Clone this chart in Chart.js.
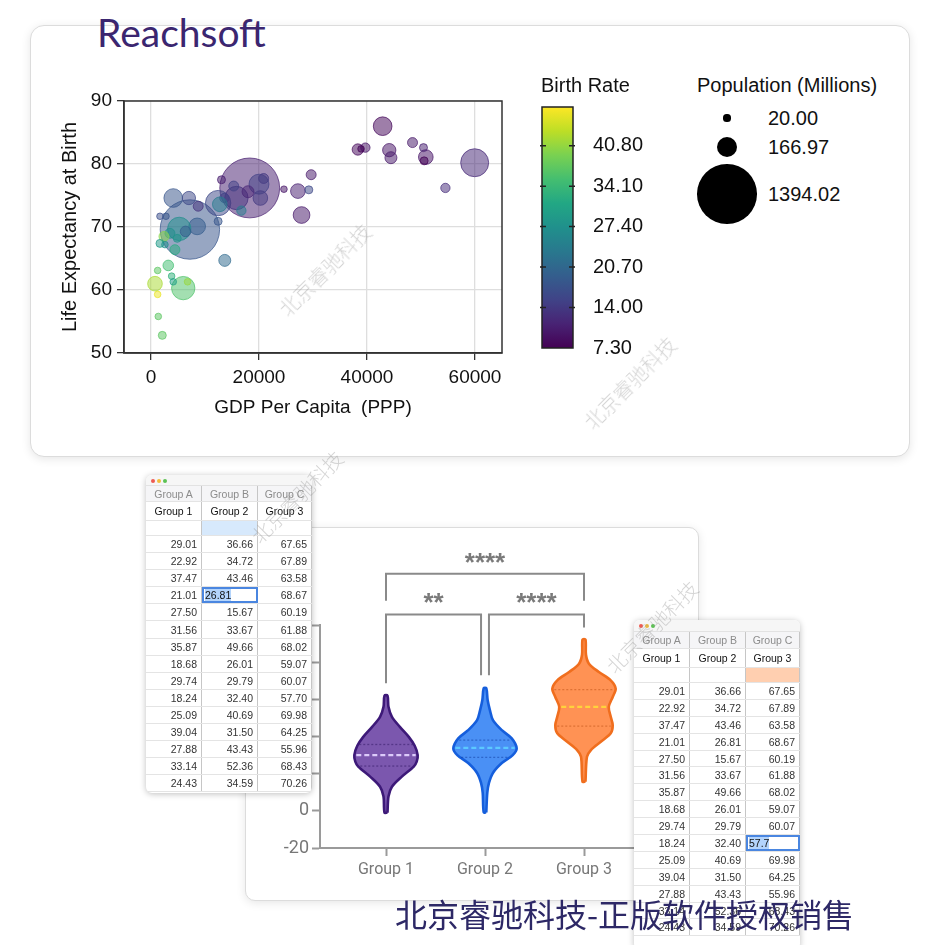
<!DOCTYPE html>
<html><head><meta charset="utf-8">
<script src="https://cdn.jsdelivr.net/npm/chart.js@4.4.0/dist/chart.umd.min.js"></script>
<style>
html,body{margin:0;padding:0}
body{width:945px;height:945px;background:#fff;position:relative;overflow:hidden;font-family:'Liberation Sans',Arial,sans-serif}
.card{position:absolute;background:#fff;border:1px solid #dcdcdc;box-shadow:0 2px 10px rgba(0,0,0,0.10)}
canvas{position:absolute}
.txt{position:absolute;white-space:nowrap;color:#111;font-size:20px;line-height:24px}
#brand{position:absolute;left:97px;top:13px;font-family:Lato,'Open Sans',sans-serif;font-size:39px;line-height:1;color:#3b2670;white-space:nowrap}
.win{position:absolute;background:#fff;border-radius:6px;box-shadow:0 1px 6px rgba(0,0,0,0.25);overflow:hidden;font-family:'Liberation Sans',Arial,sans-serif;font-size:10.5px;color:#333}
.bar{background:#f6f6f6;position:relative;border-bottom:1px solid #e2e2e2;box-sizing:border-box}
.dot{position:absolute;width:4px;height:4px;border-radius:50%}
.row{display:flex;border-bottom:1px solid #e4e4e4;box-sizing:border-box}
.cell{box-sizing:border-box;border-right:1.5px solid #c6c6c6;display:flex;align-items:center;justify-content:flex-end;padding-right:4px;overflow:hidden}
.hdr .cell{justify-content:center;color:#8c8c8c;background:#f5f5f7;padding:0}
.grp .cell{justify-content:center;color:#111;padding:0}
.sel{outline:2px solid #4a86e0;outline-offset:-2px;justify-content:flex-start!important;padding-left:3px}
.sel span{background:#b3d4fc;color:#111}
.wm{position:absolute;font-family:'Noto Sans CJK SC',sans-serif;font-weight:300;font-size:20px;color:rgba(150,150,150,0.4);white-space:nowrap;transform:translate(-50%,-50%) rotate(-45deg);line-height:1}
#footer{position:absolute;left:395px;top:897px;font-family:'Noto Sans CJK SC',sans-serif;font-size:32px;line-height:32px;color:#2d2866;white-space:nowrap}
.sz{position:absolute;background:#000;border-radius:50%}
</style></head>
<body>
<div class="card" style="left:30px;top:25px;width:878px;height:430px;border-radius:14px"></div>
<canvas id="bubble" width="490" height="350" style="left:40px;top:80px"></canvas>
<canvas id="cbar" width="120" height="305" style="left:530px;top:75px"></canvas>
<div class="txt" style="left:541px;top:73px">Birth Rate</div>
<div class="txt" style="left:697px;top:73px">Population (Millions)</div>
<div id="sizeLegend"></div>
<div id="brand">Reachsoft</div>

<div class="card" style="left:245px;top:527px;width:452px;height:372px;border-radius:10px"></div>
<canvas id="violin" width="440" height="360" style="left:250px;top:530px"></canvas>
<div class="win" id="tblL" style="left:146px;top:475px;width:166px;height:318px"></div>
<div class="win" id="tblR" style="left:634px;top:620px;width:166px;height:330px"></div>

<div class="wm" style="left:325px;top:270px">北京睿驰科技</div>
<div class="wm" style="left:630px;top:383px">北京睿驰科技</div>
<div class="wm" style="left:297px;top:497px">北京睿驰科技</div>
<div class="wm" style="left:652px;top:627px">北京睿驰科技</div>
<div id="footer">北京睿驰科技-正版软件授权销售</div>

<script>
// ---------------- Bubble chart data ----------------
const bubbleGdp   = [18280, 7200, 59940, 12430, 15820, 5970, 8550, 5230, 4120, 20000, 42900, 27880, 27200, 50890, 44120, 44430, 38300, 39700, 38900, 50580, 48430, 50460, 54520, 29660, 29230, 24620, 17970, 20860, 20250, 16740, 15320, 13050, 13600, 12740, 12430, 13660, 7020, 8740, 6400, 3510, 4860, 2400, 1660, 2580, 4430, 1660, 2770, 3200, 1230, 3820, 4120, 740, 6770, 1230, 1350, 2090];
const bubbleLife  = [76.2, 69.6, 80.2, 73.8, 74.6, 60.3, 70.1, 69.7, 74.6, 76.8, 86.0, 71.9, 75.7, 81.1, 82.2, 81.0, 82.3, 82.6, 82.4, 80.5, 83.4, 82.6, 76.2, 78.3, 75.9, 76.0, 75.6, 77.7, 74.6, 72.6, 76.5, 77.5, 74.6, 73.6, 70.9, 64.7, 74.6, 73.3, 69.3, 69.0, 68.2, 68.5, 67.4, 67.2, 66.4, 71.7, 71.7, 63.9, 63.1, 62.2, 61.3, 61.0, 61.3, 59.3, 55.8, 52.8];
const bubblePop   = [1400, 1380, 306, 251, 213, 213, 109, 213, 136, 156, 136, 109, 84, 84, 69, 56, 50, 34, 17, 25, 39, 25, 34, 39, 25, 17, 56, 39, 84, 34, 39, 25, 34, 84, 25, 56, 69, 39, 44, 39, 25, 39, 25, 17, 39, 17, 17, 44, 17, 17, 17, 84, 17, 17, 17, 25];
const bubbleBirth = [10.9, 18.0, 12.0, 16.0, 13.0, 36.0, 19.0, 27.0, 18.0, 15.0, 8.0, 10.0, 11.0, 9.5, 9.5, 10.0, 8.0, 9.5, 7.5, 7.3, 10.0, 11.0, 12.5, 10.0, 16.0, 9.5, 11.5, 14.0, 14.0, 24.0, 15.0, 10.5, 15.0, 24.0, 18.0, 21.0, 16.0, 13.0, 19.0, 27.0, 28.0, 40.0, 29.0, 27.0, 32.0, 17.0, 18.0, 35.0, 37.0, 33.0, 30.0, 42.0, 41.0, 46.0, 37.0, 37.0];
const xTicks = [0, 20000, 40000, 60000];
const yTicks = [50, 60, 70, 80, 90];
const birthTicks = [7.30, 14.00, 20.70, 27.40, 34.10, 40.80];
const birthRange = [7.3, 47.2];
const popLegend = [20.00, 166.97, 1394.02];

// ---------------- Violin chart data ----------------
const groupLabels = ['Group 1', 'Group 2', 'Group 3'];
const violinTicks = [-20, 0, 20, 40, 60, 80, 100];
const violin1Vals = [-1, 7.7, 13, 18.4, 23.8, 26.5, 30, 35, 39.8, 45.2, 50.6, 56, 62];
const violin1HalfW = [0.015, 0.025, 0.06, 0.16, 0.28, 0.31, 0.32, 0.29, 0.23, 0.14, 0.06, 0.025, 0.015];
const violin2Vals = [-0.8, 9.6, 15, 20.4, 25.7, 30, 33.6, 39, 43.4, 48.8, 54.1, 59.5, 66];
const violin2HalfW = [0.013, 0.023, 0.04, 0.08, 0.17, 0.28, 0.32, 0.27, 0.17, 0.08, 0.05, 0.027, 0.013];
const violin3Vals = [15.7, 29.1, 32.7, 37.2, 41.7, 46.1, 50.6, 55.9, 61.3, 65.8, 70.2, 74.7, 79.2, 84, 92.2];
const violin3HalfW = [0.015, 0.03, 0.07, 0.17, 0.27, 0.29, 0.27, 0.25, 0.29, 0.32, 0.27, 0.15, 0.05, 0.02, 0.015];
const medianVals = [30, 33.9, 55.9];
const medianHalfW = [0.30, 0.30, 0.23];
const quartileVals = [[35.7, 24.1], [38.1, 28.8], [65.2, 45.6]];
const quartileHalfW = [[0.27, 0.26], [0.26, 0.24], [0.30, 0.27]];
const bracketX = [[1, 3], [1, 1.96], [2.04, 3]];
const bracketLegEnd = [[113.1, 113.1], [68.6, 72.9], [72.9, 98.6]];
const bracketTop = [127.6, 105.6, 105.6];
const sigLabels = ['****', '**', '****'];
const sigX = [2, 1.48, 2.52];
const sigY = [135, 113.6, 113.6];

// ---------------- Table data ----------------
const tableCols = ['Group A', 'Group B', 'Group C'];
const tableGroups = ['Group 1', 'Group 2', 'Group 3'];
const tableG1 = ['29.01','22.92','37.47','21.01','27.50','31.56','35.87','18.68','29.74','18.24','25.09','39.04','27.88','33.14','24.43'];
const tableG2 = ['36.66','34.72','43.46','26.81','15.67','33.67','49.66','26.01','29.79','32.40','40.69','31.50','43.43','52.36','34.59'];
const tableG3 = ['67.65','67.89','63.58','68.67','60.19','61.88','68.02','59.07','60.07','57.70','69.98','64.25','55.96','68.43','70.26'];

// ---------------- helpers ----------------
const F = "'Liberation Sans', Arial, sans-serif";
const VIR = [[68,1,84],[72,35,116],[64,67,135],[52,94,141],[41,120,142],[32,144,140],[34,167,132],[68,190,112],[121,209,81],[189,222,38],[253,231,37]];
function viridis(t, a) {
  t = Math.max(0, Math.min(1, t));
  const p = t * 10, i = Math.min(9, Math.floor(p)), f = p - i;
  const c = VIR[i].map((v, k) => Math.round(v + (VIR[i + 1][k] - v) * f));
  return `rgba(${c[0]},${c[1]},${c[2]},${a})`;
}
const birthT = b => (b - birthRange[0]) / (birthRange[1] - birthRange[0]);
const popRadius = p => 0.8 * Math.sqrt(p);

// ---------------- Bubble chart ----------------
const framePlugin = {
  id: 'frame',
  afterDatasetsDraw(chart) {
    const {ctx, chartArea: a} = chart;
    ctx.save(); ctx.strokeStyle = '#333'; ctx.lineWidth = 1.5;
    ctx.strokeRect(a.left, a.top, a.right - a.left, a.bottom - a.top);
    ctx.restore();
  }
};
new Chart(document.getElementById('bubble'), {
  type: 'bubble',
  data: { datasets: [{
    data: bubbleGdp.map((g, i) => ({x: g, y: bubbleLife[i], r: popRadius(bubblePop[i])})),
    backgroundColor: bubbleBirth.map(b => viridis(birthT(b), 0.52)),
    borderColor: bubbleBirth.map(b => viridis(birthT(b), 0.7)),
    borderWidth: 1
  }]},
  options: {
    responsive: false, animation: false, events: [],
    layout: {autoPadding: false, padding: {top: 21, right: 28, left: 0, bottom: 0}},
    plugins: {legend: {display: false}, tooltip: {enabled: false}},
    scales: {
      x: {
        type: 'linear', min: -5000, max: 65000,
        afterBuildTicks: s => { s.ticks = xTicks.map(v => ({value: v})); },
        afterFit: s => { s.height = 77; },
        grid: {color: '#dedede', lineWidth: 1.3, tickLength: 7, tickColor: '#333', tickWidth: 1.3},
        border: {color: '#333', width: 1.5},
        ticks: {color: '#111', font: {size: 19, family: F}, padding: 6, maxRotation: 0, callback: v => String(v)},
        title: {display: true, text: 'GDP Per Capita  (PPP)', color: '#111', font: {size: 19, family: F}, padding: {top: 0, bottom: 10.6}}
      },
      y: {
        type: 'linear', min: 50, max: 90,
        afterBuildTicks: s => { s.ticks = yTicks.map(v => ({value: v})); },
        afterFit: s => { s.width = 84; },
        grid: {color: '#dedede', lineWidth: 1.3, tickLength: 7, tickColor: '#333', tickWidth: 1.3},
        border: {color: '#333', width: 1.5},
        ticks: {color: '#111', font: {size: 19, family: F}, padding: 5, callback: v => String(v)},
        title: {display: true, text: 'Life Expectancy at Birth', color: '#111', font: {size: 20, family: F}, padding: {top: 18, bottom: 0}}
      }
    }
  },
  plugins: [framePlugin]
});

// ---------------- Colour bar ----------------
const cbarPlugin = {
  id: 'cbar',
  beforeDatasetsDraw(chart) {
    const {ctx, chartArea: a, scales} = chart;
    const g = ctx.createLinearGradient(0, a.bottom, 0, a.top);
    for (let i = 0; i <= 10; i++) g.addColorStop(i / 10, viridis(i / 10, 1));
    ctx.save();
    ctx.fillStyle = g; ctx.fillRect(a.left, a.top, a.right - a.left, a.bottom - a.top);
    ctx.strokeStyle = '#222'; ctx.lineWidth = 1.5;
    ctx.strokeRect(a.left, a.top, a.right - a.left, a.bottom - a.top);
    birthTicks.forEach(v => {
      const y = scales.y.getPixelForValue(v);
      if (Math.abs(y - a.bottom) < 2) return;
      ctx.beginPath();
      ctx.moveTo(a.left - 2, y); ctx.lineTo(a.left + 4, y);
      ctx.moveTo(a.right - 4, y); ctx.lineTo(a.right + 2, y);
      ctx.stroke();
    });
    ctx.restore();
  }
};
new Chart(document.getElementById('cbar'), {
  type: 'scatter',
  data: {datasets: []},
  options: {
    responsive: false, animation: false, events: [],
    layout: {autoPadding: false, padding: {top: 12, bottom: 13, left: 12, right: 0}},
    plugins: {legend: {display: false}, tooltip: {enabled: false}},
    scales: {
      x: {display: false, min: 0, max: 1},
      y: {
        position: 'right', min: birthRange[0], max: birthRange[1],
        afterBuildTicks: s => { s.ticks = birthTicks.map(v => ({value: v})); },
        afterFit: s => { s.width = 77; },
        grid: {display: false, drawTicks: false},
        border: {display: false},
        ticks: {color: '#111', font: {size: 20, family: F}, padding: 20, callback: v => Number(v).toFixed(2)}
      }
    }
  },
  plugins: [cbarPlugin]
});

// ---------------- Size legend ----------------
(function () {
  const el = document.getElementById('sizeLegend');
  const cy = [118, 147, 194];
  popLegend.forEach((p, i) => {
    const r = popRadius(p);
    const c = document.createElement('div');
    c.className = 'sz';
    c.style.cssText = `left:${727 - r}px;top:${cy[i] - r}px;width:${2 * r}px;height:${2 * r}px`;
    el.appendChild(c);
    const t = document.createElement('div');
    t.className = 'txt';
    t.style.cssText = `left:768px;top:${cy[i] - 12}px`;
    t.textContent = p.toFixed(2);
    el.appendChild(t);
  });
})();

// ---------------- Violin chart ----------------
const centers = [1, 2, 3];
const vVals = [violin1Vals, violin2Vals, violin3Vals];
const vHalf = [violin1HalfW, violin2HalfW, violin3HalfW];
const vFill = ['#7b57ae', '#4a90f5', '#ff9254'];
const vStroke = ['#3d1978', '#155edc', '#f06e1e'];
const vMedian = ['#dccbfa', '#5cc8ff', '#ffd23c'];
const vQuart = ['rgba(40,15,90,0.45)', 'rgba(10,50,150,0.45)', 'rgba(190,80,20,0.5)'];

function violinPoints(g) {
  const c = centers[g], v = vVals[g], w = vHalf[g];
  const right = v.map((y, i) => ({x: c + w[i], y}));
  const left = v.map((y, i) => ({x: c - w[i], y})).reverse();
  return right.concat(left, [right[0]]);
}
const vds = [];
for (let g = 0; g < 3; g++) {
  vds.push({data: violinPoints(g), order: 2, showLine: true, fill: 'shape', backgroundColor: vFill[g], borderColor: vStroke[g], borderWidth: 2.6, pointRadius: 0, tension: 0.3, borderJoinStyle: 'round'});
}
for (let g = 0; g < 3; g++) {
  quartileVals[g].forEach((q, k) => {
    vds.push({data: [{x: centers[g] - quartileHalfW[g][k], y: q}, {x: centers[g] + quartileHalfW[g][k], y: q}], order: 1, showLine: true, borderColor: vQuart[g], borderWidth: 1.3, borderDash: [2, 2], pointRadius: 0});
  });
  vds.push({data: [{x: centers[g] - medianHalfW[g], y: medianVals[g]}, {x: centers[g] + medianHalfW[g], y: medianVals[g]}], order: 0, showLine: true, borderColor: vMedian[g], borderWidth: 2.2, borderDash: [5, 3], pointRadius: 0});
}
for (let b = 0; b < 3; b++) {
  vds.push({data: [
    {x: bracketX[b][0], y: bracketLegEnd[b][0]}, {x: bracketX[b][0], y: bracketTop[b]},
    {x: bracketX[b][1], y: bracketTop[b]}, {x: bracketX[b][1], y: bracketLegEnd[b][1]}
  ], order: 0, showLine: true, borderColor: '#8a8a8a', borderWidth: 2, pointRadius: 0, tension: 0, clip: false});
}
const sigPlugin = {
  id: 'sig',
  afterDatasetsDraw(chart) {
    const {ctx, scales} = chart;
    ctx.save();
    ctx.fillStyle = '#7a7a7a'; ctx.font = `bold 26px ${F}`;
    ctx.textAlign = 'center'; ctx.textBaseline = 'alphabetic';
    sigLabels.forEach((t, i) => {
      ctx.fillText(t, scales.x.getPixelForValue(sigX[i]), scales.y.getPixelForValue(sigY[i]) + 11);
    });
    ctx.restore();
  }
};
const VF = "Roboto, 'Liberation Sans', sans-serif";
new Chart(document.getElementById('violin'), {
  type: 'scatter',
  data: {datasets: vds},
  options: {
    responsive: false, animation: false, events: [],
    layout: {autoPadding: false, padding: {top: 95, right: 40, left: 0, bottom: 0}},
    plugins: {legend: {display: false}, tooltip: {enabled: false}},
    scales: {
      x: {
        type: 'linear', min: 1 - 2 / 3, max: 3 + 2 / 3,
        afterBuildTicks: s => { s.ticks = centers.map(v => ({value: v})); },
        afterFit: s => { s.height = 42; },
        grid: {drawOnChartArea: false, tickLength: 8, tickColor: '#9a9a9a', tickWidth: 2},
        border: {color: '#9a9a9a', width: 2},
        ticks: {color: '#777', font: {size: 16, family: VF}, padding: 4, maxRotation: 0, callback: v => groupLabels[Math.round(v) - 1]}
      },
      y: {
        type: 'linear', min: -20, max: 100,
        afterBuildTicks: s => { s.ticks = violinTicks.map(v => ({value: v})); },
        afterFit: s => { s.width = 70; },
        grid: {drawOnChartArea: false, tickLength: 8, tickColor: '#9a9a9a', tickWidth: 2},
        border: {color: '#9a9a9a', width: 2},
        ticks: {color: '#777', font: {size: 18, family: VF}, padding: 3, callback: v => String(v)}
      }
    }
  },
  plugins: [sigPlugin]
});

// ---------------- Tables ----------------
function buildTable(id, o) {
  const el = document.getElementById(id);
  const widths = [56, 56, 54];
  let h = `<div class="bar" style="height:${o.bar}px">`;
  ['#ee5b52', '#f2bd3c', '#5cc253'].forEach((c, i) => { h += `<div class="dot" style="left:${5 + i * 6}px;top:${o.bar / 2 - 2}px;background:${c}"></div>`; });
  h += '</div>';
  const row = (cls, ht, cells) => {
    let r = `<div class="row ${cls}" style="height:${ht}px">`;
    cells.forEach((c, i) => { r += `<div class="cell ${c.cls || ''}" style="width:${widths[i]}px;${c.style || ''}">${c.html}</div>`; });
    return r + '</div>';
  };
  h += row('hdr', o.hdr, tableCols.map(t => ({html: t})));
  h += row('grp', o.grp, tableGroups.map(t => ({html: t})));
  h += row('', o.blank, [0, 1, 2].map(i => ({html: '', style: i === o.hlCol ? `background:${o.hlColor}` : ''})));
  const cols = [tableG1, tableG2, tableG3];
  for (let r = 0; r < tableG1.length; r++) {
    h += row('', o.rowH, [0, 1, 2].map(c => {
      const v = cols[c][r];
      if (r === o.selRow && c === o.selCol) return {html: `<span>${o.selText}</span>`, cls: 'sel'};
      return {html: v};
    }));
  }
  el.innerHTML = h;
}
buildTable('tblL', {bar: 11, hdr: 16, grp: 19, blank: 15, rowH: 17.1, hlCol: 1, hlColor: '#d7e9fc', selRow: 3, selCol: 1, selText: '26.81'});
buildTable('tblR', {bar: 12, hdr: 17, grp: 19, blank: 15, rowH: 16.9, hlCol: 2, hlColor: '#ffcfb0', selRow: 9, selCol: 2, selText: '57.7'});
</script>
</body></html>
